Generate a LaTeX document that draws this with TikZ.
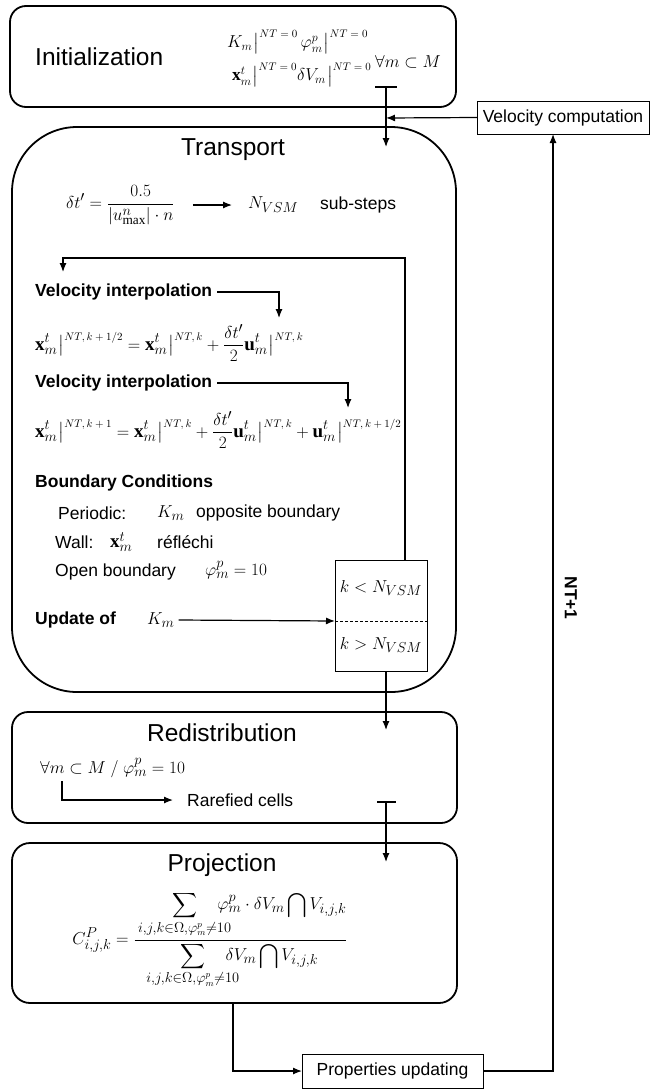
\documentclass[tikz,border=0pt]{standalone}
\usepackage{exscale}
\usepackage{fontspec}
\setmainfont{Liberation Serif}
\newfontfamily\arial{Liberation Sans}
\usetikzlibrary{arrows.meta,calc}
\newcommand{\ttlf}{\arial\fontsize{24.5}{28}\selectfont}
\newcommand{\lblf}{\arial\fontsize{17.5}{20}\selectfont}
\newcommand{\blbf}{\arial\bfseries\fontsize{17.5}{20}\selectfont}
\newcommand{\mthf}{\fontsize{19}{22}\selectfont}
\newcommand{\imthf}{\fontsize{17.5}{20}\selectfont}
\newcommand{\vb}[1]{{\nulldelimiterspace=0pt\left.\rule[-6pt]{0pt}{21pt}\right|}^{\hbox{\fontsize{11}{13}\selectfont$#1$}}}
\newcommand{\sublim}[1]{\hbox to 60pt{\hss$\scriptstyle #1$\hss}}
\tikzset{
  bigbox/.style={draw, line width=1.8pt, inner sep=0pt, outer sep=0pt, anchor=north west},
  smallbox/.style={draw, line width=0.9pt, inner sep=0pt, outer sep=0pt},
  ttl/.style={font=\ttlf, inner sep=0pt},
  lbl/.style={font=\lblf, inner sep=0pt},
  blbl/.style={font=\blbf, inner sep=0pt},
  mth/.style={font=\mthf, inner sep=0pt},
  imth/.style={font=\imthf, inner sep=0pt},
  conn/.style={line width=1.2pt},
  arr/.style={conn, -{Latex[length=9pt,width=7pt]}},
}
\begin{document}
\begin{tikzpicture}[x=1pt,y=-1pt]
\useasboundingbox (0,0) rectangle (649,1090);
% main boxes
\node[bigbox, rounded corners=16pt, minimum width=446pt, minimum height=101pt] (init) at (10,6) {};
\node[bigbox, rounded corners=65pt, minimum width=444pt, minimum height=565pt] (trans) at (12,127) {};
\node[bigbox, rounded corners=16pt, minimum width=445pt, minimum height=111pt] (redis) at (12,712) {};
\node[bigbox, rounded corners=18pt, minimum width=445pt, minimum height=160pt] (proj) at (12,843) {};
% small boxes
\node[smallbox, minimum width=172pt, minimum height=33pt, font=\lblf] (vc) at (563,117.5) {Velocity computation};
\node[smallbox, minimum width=181pt, minimum height=34pt, font=\lblf] (pu) at (392.5,1071) {Properties updating};
\node[smallbox, minimum width=92pt, minimum height=111pt] (kbox) at (381,615.5) {};
\draw[line width=0.6pt, densely dashed] ([yshift=-5.5pt]kbox.west) -- ([yshift=-5.5pt]kbox.east);
\node[mth] (klt) at (381,588) {$k<N_{VSM}$};
\node[mth] (kgt) at (381,645) {$k>N_{VSM}$};
% Initialization
\node[ttl, anchor=west] (initt) at (35,57) {Initialization};
\node[imth, anchor=west] (ir1) at (227,42) {$K_m\vb{NT=0}\,\varphi_m^p\vb{NT=0}$};
\node[imth, anchor=west] (ir2) at (232,75) {$\mathbf{x}_m^t\vb{NT=0}\delta V_m\vb{NT=0}$};
\node[imth, anchor=west] (fa) at (375,62) {$\forall m\subset M$};
% Transport
\node[ttl] (transt) at (233,150) {Transport};
\node[mth, anchor=west] (dt) at (66,205) {$\displaystyle\delta t'=\frac{0.5}{\left|u^n_{\max}\right|\cdot n}$};
\node[mth, anchor=west] (nvsm) at (248,205) {$N_{VSM}$};
\node[lbl, anchor=west] (sub) at (320,205) {sub-steps};
\draw[arr] ([xshift=18pt]dt.east) -- ([xshift=-16pt]nvsm.west);
\node[blbl, anchor=west] (vi1) at (35,292) {Velocity interpolation};
\node[mth, anchor=west] (eq1) at (35,343) {$\displaystyle\mathbf{x}_m^t\vb{NT,k+1/2}=\mathbf{x}_m^t\vb{NT,k}+\frac{\delta t'}{2}\mathbf{u}_m^t\vb{NT,k}$};
\node[blbl, anchor=west] (vi2) at (35,383) {Velocity interpolation};
\node[mth, anchor=west] (eq2) at (35,430) {$\displaystyle\mathbf{x}_m^t\vb{NT,k+1}=\mathbf{x}_m^t\vb{NT,k}+\frac{\delta t'}{2}\mathbf{u}_m^t\vb{NT,k}+\mathbf{u}_m^t\vb{NT,k+1/2}$};
\coordinate (a1) at (279,318);
\coordinate (a2) at (348,408);
\draw[arr] ([xshift=5pt]vi1.east) -| (a1);
\draw[arr] ([xshift=5pt]vi2.east) -| (a2);
\node[blbl, anchor=west] (bc) at (35,483) {Boundary Conditions};
\node[lbl, anchor=west] (per) at (58,513) {Periodic:};
\node[mth, anchor=west] (perk) at (157,513) {$K_m$};
\node[lbl, anchor=west] (opp) at (196,513) {opposite boundary};
\node[lbl, anchor=west] (wall) at (55,542) {Wall:};
\node[mth, anchor=west] (wallx) at (110,542) {$\mathbf{x}_m^t$};
\node[lbl, anchor=west] (refl) at (157,542) {réfléchi};
\node[lbl, anchor=west] (open) at (55,572) {Open boundary};
\node[mth, anchor=west] (openphi) at (205,570) {$\varphi_m^p=10$};
\node[blbl, anchor=west] (upd) at (35,620) {Update of};
\node[mth, anchor=west] (updk) at (147,620) {$K_m$};
\draw[arr] ([xshift=4pt]updk.east) -- ([yshift=-5.5pt]kbox.west);
\coordinate (loopend) at (63,272);
\draw[arr] ([xshift=24pt]kbox.north) |- (63,258) -- (loopend);
% Redistribution
\node[ttl] (redt) at (222,733) {Redistribution};
\node[mth, anchor=west] (cond) at (40,768) {$\forall m\subset M\ /\ \varphi_m^p=10$};
\node[lbl, anchor=west] (rare) at (187,800) {Rarefied cells};
\draw[arr] (62,781) |- ([xshift=-14pt]rare.west);
% Projection
\node[ttl] (projt) at (222,865) {Projection};
\node[mth] (projf) at (210,940) {$\displaystyle C^P_{i,j,k}=\frac{\kern20pt\displaystyle\sum_{\sublim{i,j,k\in\Omega,\varphi_m^p\neq 10}}\varphi_m^p\cdot\delta V_m\bigcap V_{i,j,k}}{\displaystyle\sum_{\sublim{i,j,k\in\Omega,\varphi_m^p\neq 10}}\delta V_m\bigcap V_{i,j,k}}$};
% connectors between stages
\coordinate (tick1) at (386,87);
\coordinate (tarr) at (386,147);
\draw[conn] (375,87) -- (397,87);
\draw[arr] (tick1) -- (tarr);
\draw[arr] (vc.west) -- (386,118);
\coordinate (rarr) at (386,730);
\draw[arr] (kbox.south -| 386,0) -- (rarr);
\coordinate (tick2) at (386,802);
\coordinate (parr) at (386,862);
\draw[conn] (377,802) -- (396,802);
\draw[arr] (tick2) -- (parr);
\draw[arr] (proj.south west -| 233,0) |- (pu.west);
\draw[arr] (pu.east) -| ([xshift=-10pt]vc.south);
\node[font=\blbf, rotate=-90, inner sep=0pt] (nt) at (571,598) {NT+1};
\end{tikzpicture}
\end{document}
